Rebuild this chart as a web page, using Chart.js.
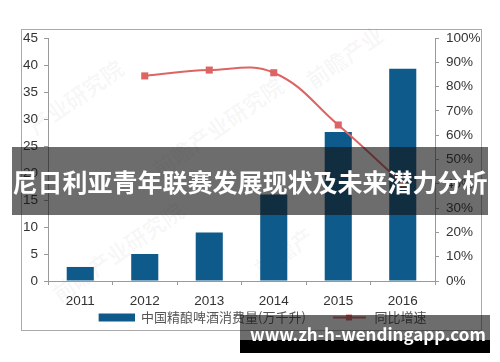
<!DOCTYPE html>
<html>
<head>
<meta charset="utf-8">
<script src="https://cdn.jsdelivr.net/npm/chart.js@4.4.0/dist/chart.umd.min.js"></script>
<style>
  html, body { margin: 0; padding: 0; background: #fff; }
  #wrap { position: relative; width: 500px; height: 362px; overflow: hidden; }
  #chart { position: absolute; left: 0; top: 0; }
  .frame { position: absolute; left: 21px; top: 29px; width: 461px; height: 302px; border: 1px solid #aaa; box-sizing: border-box; }
  .wm { position: absolute; color: rgba(0,0,0,0.045); font: bold 22px "Noto Sans CJK SC"; transform: rotate(-35deg); white-space: nowrap; }
  .banner { position: absolute; left: 12px; top: 147px; width: 476px; height: 68px; background: rgba(20,20,20,0.62);
            color: #fff; font: bold 25px "Noto Sans CJK SC"; line-height: 68px; text-align: center; white-space: nowrap; }
  .site { position: absolute; left: 240px; top: 315px; width: 250px; height: 25px; background: rgba(20,20,20,0.62); }
  .site-black { position: absolute; left: 240px; top: 340px; width: 250px; height: 13px; background: #000; }
  .site-text { position: absolute; left: 250px; top: 323px; color: #fff; font: bold 17px "Noto Sans CJK SC"; line-height: 21px; white-space: nowrap; }
</style>
</head>
<body>
<div id="wrap">
  <div class="frame"></div>
  <div class="wm" style="left:20px;top:80px;">产业研究院</div>
  <div class="wm" style="left:140px;top:110px;">前瞻产业研究院</div>
  <div class="wm" style="left:300px;top:40px;">前瞻产业</div>
  <div class="wm" style="left:40px;top:235px;">前瞻产业研究院</div>
  <div class="wm" style="left:250px;top:235px;">前瞻产</div>
  <canvas id="chart" width="500" height="362"></canvas>
  <div class="banner">尼日利亚青年联赛发展现状及未来潜力分析</div>
  <div class="site"></div>
  <div class="site-black"></div>
  <div class="site-text">www.zh-h-wendingapp.com</div>
</div>
<script>
const years = ["2011", "2012", "2013", "2014", "2015", "2016"];
const consumption = [2.6, 5.0, 9.0, 16.0, 27.6, 39.3];   // 万千升
const growthRate = [null, 84.4, 86.8, 85.7, 64.2, 40.0]; // %
const leftMax = 45;
const rightMax = 100;

const barColor = "#0e5a8a";
const lineColor = "#de6464";
const axisColor = "#999";
const tickFont = { family: "Liberation Sans", size: 13.5 };

// legend swatches, drawn like the original (bar block / line with square).
// 20px blank on the left of each swatch gives the gap between legend items
function swatch(draw) {
  const c = document.createElement("canvas");
  c.width = 56;
  c.height = 10;
  draw(c.getContext("2d"));
  return c;
}
const barSwatch = swatch(g => {
  g.fillStyle = barColor;
  g.fillRect(20, 1, 36, 8);
});
const lineSwatch = swatch(g => {
  g.strokeStyle = lineColor;
  g.lineWidth = 2;
  g.beginPath();
  g.moveTo(21, 5);
  g.lineTo(54, 5);
  g.stroke();
  g.fillStyle = lineColor;
  g.fillRect(34, 2, 6, 6);
});

new Chart(document.getElementById("chart"), {
  data: {
    labels: years,
    datasets: [
      {
        type: "line",
        label: "同比增速",
        data: growthRate,
        yAxisID: "y1",
        borderColor: lineColor,
        backgroundColor: lineColor,
        borderWidth: 2,
        pointStyle: "rect",
        pointRadius: 5,
        pointBackgroundColor: lineColor,
        pointBorderWidth: 0,
        tension: 0.4,
        order: 0,
      },
      {
        type: "bar",
        label: "中国精酿啤酒消费量(万千升)",
        data: consumption,
        yAxisID: "y",
        backgroundColor: barColor,
        barPercentage: 0.42,
        categoryPercentage: 1,
        order: 1,
      },
    ],
  },
  options: {
    responsive: false,
    animation: false,
    layout: { padding: { left: 20, right: 15, top: 38, bottom: 28 } },
    plugins: {
      tooltip: { enabled: false },
      legend: {
        position: "bottom",
        labels: {
          usePointStyle: true,
          pointStyleWidth: 56,
          padding: 6,
          color: "#555",
          font: { family: "Noto Sans CJK SC", size: 13 },
          generateLabels(chart) {
            const items = Chart.defaults.plugins.legend.labels.generateLabels(chart);
            items.forEach(it => {
              it.pointStyle = it.datasetIndex === 1 ? barSwatch : lineSwatch;
            });
            // bar series first, as in the original
            return items.reverse();
          },
        },
      },
    },
    scales: {
      x: {
        grid: { drawOnChartArea: false, drawTicks: true, tickLength: 4, color: axisColor },
        border: { color: axisColor },
        ticks: { color: "#333", font: tickFont, padding: 8 },
        afterFit(s) { s.height = 24; },
      },
      y: {
        position: "left",
        min: 0,
        max: leftMax,
        ticks: { stepSize: 5, color: "#333", font: tickFont, padding: 6 },
        grid: { drawOnChartArea: false, tickLength: 4, color: axisColor },
        border: { color: axisColor },
        afterFit(s) { s.width = 28; },
      },
      y1: {
        position: "right",
        min: 0,
        max: rightMax,
        ticks: { stepSize: 10, color: "#333", font: tickFont, padding: 7, callback: v => v + "%" },
        grid: { drawOnChartArea: false, tickLength: 4, color: axisColor },
        border: { color: axisColor },
        afterFit(s) { s.width = 50; },
      },
    },
  },
});
</script>
</body>
</html>
